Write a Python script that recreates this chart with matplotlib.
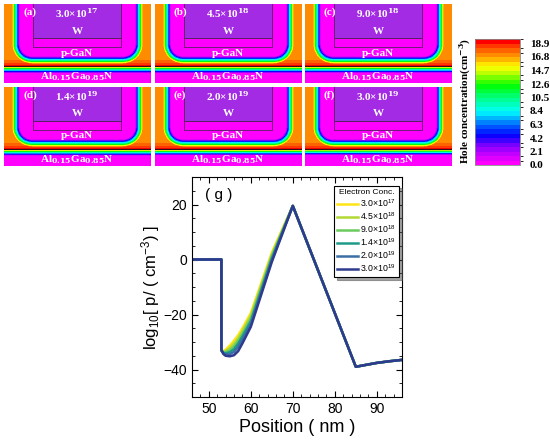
import numpy as np
import matplotlib
matplotlib.use("Agg")
import matplotlib.pyplot as plt
from matplotlib.colors import LinearSegmentedColormap, BoundaryNorm
from matplotlib.patches import Rectangle
from matplotlib.ticker import MultipleLocator, AutoMinorLocator
import matplotlib.cm as cm

plt.rcParams['font.family'] = ['Liberation Sans', 'DejaVu Sans']
plt.rcParams['mathtext.fontset'] = 'custom'
plt.rcParams['mathtext.rm'] = 'Liberation Sans'
plt.rcParams['mathtext.it'] = 'Liberation Sans:italic'
plt.rcParams['mathtext.bf'] = 'Liberation Sans:bold'

# ---- data ----
panel_letters = ['(a)', '(b)', '(c)', '(d)', '(e)', '(f)']
conc_mant = ['3.0', '4.5', '9.0', '1.4', '2.0', '3.0']
conc_exp = [17, 18, 18, 19, 19, 19]
algan_depth = [7.5, 7.5, 7.3, 7.0, 6.8, 6.5]   # depletion depth in AlGaN (px of panel)

cbar_ticks = [0.0, 2.1, 4.2, 6.3, 8.4, 10.5, 12.6, 14.7, 16.8, 18.9]

x_start = [46, 53, 53]
y_start = [0, 0, -33]
x_trough = [53.5, 54, 55, 56, 57, 58, 60, 65]
y_trough = {
    '3.0e17': [-33.3, -32.8, -31.3, -29.5, -27.5, -25.0, -19.5, 2.5],
    '4.5e18': [-33.6, -33.3, -32.2, -30.6, -28.6, -26.0, -20.5, 1.8],
    '9.0e18': [-33.8, -33.7, -33.0, -31.6, -29.6, -27.0, -21.5, 1.1],
    '1.4e19': [-34.0, -34.1, -33.7, -32.6, -30.6, -28.0, -22.5, 0.4],
    '2.0e19': [-34.2, -34.5, -34.4, -33.6, -31.8, -29.0, -23.5, -0.2],
    '3.0e19': [-34.4, -35.0, -35.2, -34.8, -33.3, -30.5, -24.5, -0.9],
}
x_end = [70, 85, 87.5, 90, 93, 96]
y_end = [19.5, -39, -38.3, -37.6, -37.0, -36.5]
legend_labels = [r'3.0$\times$10$^{17}$', r'4.5$\times$10$^{18}$', r'9.0$\times$10$^{18}$',
                 r'1.4$\times$10$^{19}$', r'2.0$\times$10$^{19}$', r'3.0$\times$10$^{19}$']
line_colors = ['#FFE415', '#B2D834', '#6CCB5F', '#1E9A88', '#3A6EA5', '#2D3A8E']

# ---- colormap ----
anchors = [(0.0, '#FF00FF'), (2.5, '#9000FF'), (4.5, '#0000FF'), (6.5, '#0080FF'),
           (8.2, '#00FFFF'), (10.5, '#00FF80'), (12.5, '#00FF00'), (14.5, '#C0FF00'),
           (15.5, '#FFFF00'), (17.0, '#FFA000'), (18.5, '#FF5000'), (19.6, '#FF0000')]
cmap = LinearSegmentedColormap.from_list('hole', [(v / 19.6, c) for v, c in anchors])
levels = np.linspace(0, 19.6, 29)
norm = BoundaryNorm(levels, cmap.N)

fig = plt.figure(figsize=(5.5, 4.41), dpi=100)

PW, PH = 147.0, 79.0
xx, yy = np.meshgrid(np.linspace(0, PW, 441), np.linspace(0, PH, 237))
x0, x1, y1, r = 16.0, 131.0, 52.0, 12.0
y_int = 62.0

col_left = [4, 155, 305]
row_top = [4, 87]
serif = 'Liberation Serif'

for i in range(6):
    row, col = divmod(i, 3)
    ax = fig.add_axes([col_left[col] / 550, 1 - (row_top[row] + PH) / 441, PW / 550, PH / 441])
    dx = np.maximum(np.maximum(x0 + r - xx, xx - (x1 - r)), 0)
    dy = np.maximum(yy - (y1 - r), 0)
    d = np.sqrt(dx ** 2 + dy ** 2) - r
    ramp = np.clip(d / 8.0, 0, 1)
    field = 17.0 * ramp + 2.2 * np.clip((yy - 52) / 10.0, 0, 1) ** 1.5 * ramp
    below = yy > y_int
    field[below] = 19.3 * np.clip(1 - (yy[below] - y_int) / algan_depth[i], 0, 1)
    ax.imshow(field, extent=(0, PW, PH, 0), cmap=cmap, norm=norm, aspect='auto',
              interpolation='nearest')
    ax.add_patch(Rectangle((29, -1), 88, 35, facecolor='#A22BE3', edgecolor='#5A2060', lw=0.6))
    ax.add_patch(Rectangle((29, 34), 88, 9, facecolor='none', edgecolor='#5A2060', lw=0.6))
    ax.axhline(y_int, color='#301010', lw=0.8)
    ax.set_xlim(0, PW)
    ax.set_ylim(PH, 0)
    ax.axis('off')
    tk = dict(color='white', fontweight='bold', family=serif, fontsize=8,
              math_fontfamily='dejavuserif', ha='center', va='center')
    ax.text(19, 8, panel_letters[i], **dict(tk, ha='left'))
    ax.text(73, 9, conc_mant[i] + '\u00d710$\\mathbf{^{%d}}$' % conc_exp[i], **tk)
    ax.text(73, 27, 'W', **tk)
    ax.text(73, 49, 'p-GaN', **tk)
    ax.text(73, 72.5, r'Al$\mathbf{_{0.15}}$Ga$\mathbf{_{0.85}}$N', **tk)

# colorbar
cax = fig.add_axes([475 / 550, 1 - 165 / 441, 45 / 550, 126 / 441])
sm = cm.ScalarMappable(norm=norm, cmap=cmap)
cb = fig.colorbar(sm, cax=cax, ticks=cbar_ticks)
cb.ax.set_yticklabels(['%.1f' % t for t in cbar_ticks], family=serif, fontweight='bold', fontsize=8)
cb.ax.tick_params(length=0, pad=7)
cb.outline.set_edgecolor('#888888')
cb.outline.set_linewidth(0.6)
fig.text(465 / 550, 1 - 101 / 441, 'Hole concentration(cm$\\mathbf{^{-3}}$)', rotation=90,
         ha='center', va='center', family=serif, fontweight='bold', fontsize=8,
         math_fontfamily='dejavuserif')

# bottom plot
ax = fig.add_axes([192 / 550, 1 - 397 / 441, 210 / 550, 220 / 441])
for (key, yt), lab, c in zip(y_trough.items(), legend_labels, line_colors):
    xs = x_start + x_trough + x_end
    ys = y_start + yt + y_end
    ax.plot(xs, ys, color=c, lw=1.8, label=lab)
ax.set_xlim(46, 96)
ax.set_ylim(-50, 30)
ax.xaxis.set_major_locator(MultipleLocator(10))
ax.xaxis.set_minor_locator(AutoMinorLocator(5))
ax.yaxis.set_major_locator(MultipleLocator(20))
ax.yaxis.set_minor_locator(AutoMinorLocator(4))
ax.tick_params(which='both', direction='in', top=True, right=True, labelsize=10)
ax.tick_params(which='major', length=4)
ax.tick_params(which='minor', length=2)
ax.set_xlabel('Position ( nm )', fontsize=13, labelpad=2)
ax.set_ylabel('log$_{10}$[ p/ ( cm$^{-3}$) ]', fontsize=12, labelpad=1)
ax.text(0.06, 0.9, '( g )', transform=ax.transAxes, fontsize=11)
leg = ax.legend(title='Electron Conc.', loc='upper right', bbox_to_anchor=(0.99, 0.965),
                fontsize=6.3, title_fontsize=6, frameon=True, fancybox=False, shadow=True,
                handlelength=2.4, labelspacing=0.15, borderpad=0.35, handletextpad=0.25,
                borderaxespad=0.1)
leg.get_frame().set_edgecolor('black')
leg.get_frame().set_linewidth(0.8)

fig.savefig('out.png', dpi=100)
